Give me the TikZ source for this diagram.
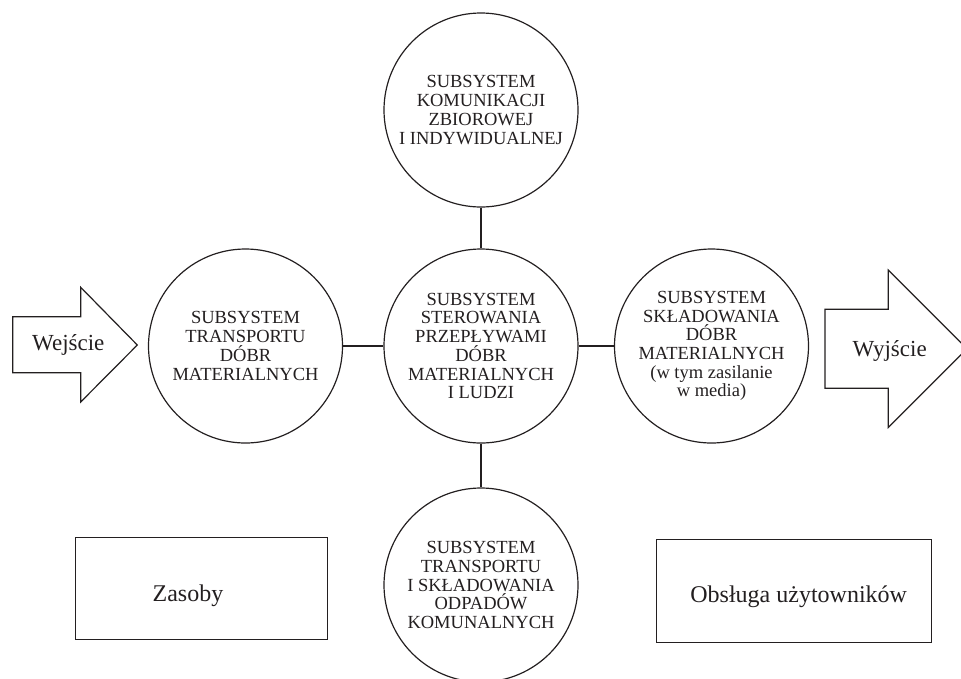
\documentclass[tikz,border=0pt]{standalone}
\usepackage{fontspec}
\setmainfont{Liberation Serif}
\definecolor{ink}{RGB}{35,31,32}
\begin{document}
\begin{tikzpicture}[x=1pt,y=-1pt,
  outline/.style={draw=ink, line width=1.2pt, line join=miter},
  subsys/.style={circle, outline, minimum size=194pt, inner sep=0pt, align=center,
    text=ink, font=\fontsize{18.5}{18.7}\selectfont},
  panel/.style={rectangle, outline, inner sep=0pt},
  label/.style={text=ink, inner sep=0pt, anchor=base},
  link/.style={draw=ink, line width=1.2pt}
]
\useasboundingbox (0,0) rectangle (961,678);
\clip (0,0) rectangle (961,678);

% subsystems
\node[subsys] (comm) at (481,110)
  {SUBSYSTEM\\KOMUNIKACJI\\ZBIOROWEJ\\I INDYWIDUALNEJ};
\node[subsys] (transp) at (245.5,346)
  {SUBSYSTEM\\TRANSPORTU\\DÓBR\\MATERIALNYCH};
\node[subsys] (ctrl) at (481,346)
  {SUBSYSTEM\\STEROWANIA\\PRZEPŁYWAMI\\DÓBR\\MATERIALNYCH\\I LUDZI};
\node[subsys] (store) at (711.5,346)
  {SUBSYSTEM\\SKŁADOWANIA\\DÓBR\\MATERIALNYCH\\(w tym zasilanie\\w media)};
\node[subsys] (waste) at (481,585)
  {SUBSYSTEM\\TRANSPORTU\\I SKŁADOWANIA\\ODPADÓW\\KOMUNALNYCH};

% links to the control subsystem
\draw[link] (comm) -- (ctrl);
\draw[link] (transp) -- (ctrl);
\draw[link] (ctrl) -- (store);
\draw[link] (ctrl) -- (waste);

% input arrow
\draw[outline] (12.7,316.7) -- (80.7,316.7) -- (80.7,287.3) -- (137.3,345)
  -- (80.7,402) -- (80.7,372.7) -- (12.7,372.7) -- cycle;
\node[label, font=\fontsize{23}{26}\selectfont] (in) at (68.3,350) {Wejście};

% output arrow
\draw[outline] (825,309.3) -- (888.3,309.3) -- (888.3,270) -- (967,348.8)
  -- (888.3,427.5) -- (888.3,388.3) -- (825,388.3) -- cycle;
\node[label, font=\fontsize{23}{26}\selectfont] (out) at (889.7,356) {Wyjście};

% resources and user service
\node[panel, minimum width=252pt, minimum height=102pt] (res) at (201.7,588.3) {};
\node[label, font=\fontsize{24}{28}\selectfont] (restxt) at (188,601.7) {Zasoby};
\node[panel, minimum width=275pt, minimum height=103pt] (usr) at (794.3,590.6) {};
\node[label, font=\fontsize{24}{28}\selectfont] (usrtxt) at (798.7,602.7) {Obsługa użytowników};
\end{tikzpicture}
\end{document}
